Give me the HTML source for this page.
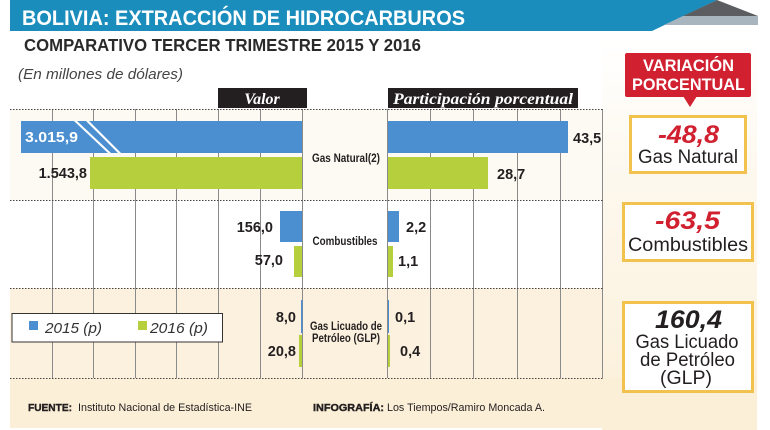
<!DOCTYPE html>
<html><head><meta charset="utf-8">
<style>
html,body{margin:0;padding:0;background:#fff;}
svg{display:block;}
text{font-family:"Liberation Sans",sans-serif;}
</style></head>
<body>
<svg width="770" height="430" viewBox="0 0 770 430" xmlns="http://www.w3.org/2000/svg">
<defs>
<linearGradient id="rp" x1="0" y1="0" x2="0" y2="1">
<stop offset="0" stop-color="#ffffff"/>
<stop offset="0.35" stop-color="#fdf8ee"/>
<stop offset="1" stop-color="#fcefd8"/>
</linearGradient>
</defs>
<rect x="0" y="0" width="770" height="430" fill="#fff"/>
<!-- right panel bg -->
<rect x="602" y="40" width="155" height="390" fill="url(#rp)"/>
<!-- row backgrounds -->
<rect x="10" y="109" width="592" height="91" fill="#fdfaf3"/>
<rect x="10" y="200" width="592" height="88" fill="#ffffff"/>
<rect x="10" y="288" width="592" height="90" fill="#fcf1de"/>
<rect x="10" y="378" width="747" height="50" fill="#fcefd8"/>

<!-- header -->
<polygon points="10,0 717,0 652,31 10,31" fill="#1a8dbd"/>
<polygon points="717,0 758,16 683,16" fill="#5b5d60"/>
<polygon points="683,16 758,16 758,25 664,25" fill="#a8b4be"/>
<text x="22" y="25" font-size="21" font-weight="bold" fill="#fff" textLength="443" lengthAdjust="spacingAndGlyphs">BOLIVIA: EXTRACCIÓN DE HIDROCARBUROS</text>
<text x="24" y="51" font-size="17.5" font-weight="bold" fill="#2a2a2a" textLength="397" lengthAdjust="spacingAndGlyphs">COMPARATIVO TERCER TRIMESTRE 2015 Y 2016</text>
<text x="18" y="79" font-size="14.5" font-style="italic" fill="#444" textLength="165" lengthAdjust="spacingAndGlyphs">(En millones de dólares)</text>

<!-- column header boxes -->
<rect x="218" y="88" width="89" height="20" fill="#231f20"/>
<text x="262" y="104" font-family="Liberation Serif" font-size="16" font-weight="bold" font-style="italic" fill="#fff" text-anchor="middle" style="font-family:'Liberation Serif',serif">Valor</text>
<rect x="388" y="88" width="190" height="20" fill="#231f20"/>
<text x="483" y="104" font-size="16" font-weight="bold" font-style="italic" fill="#fff" text-anchor="middle" textLength="180" lengthAdjust="spacingAndGlyphs" style="font-family:'Liberation Serif',serif">Participación porcentual</text>

<!-- grid lines -->
<g stroke="#8a8a8a" stroke-width="1">
<line x1="52.5" y1="109" x2="52.5" y2="378"/>
<line x1="93.5" y1="109" x2="93.5" y2="378"/>
<line x1="135.5" y1="109" x2="135.5" y2="378"/>
<line x1="176.5" y1="109" x2="176.5" y2="378"/>
<line x1="218.5" y1="109" x2="218.5" y2="378"/>
<line x1="260.5" y1="109" x2="260.5" y2="378"/>
<line x1="302.5" y1="109" x2="302.5" y2="378"/>
<line x1="387.5" y1="109" x2="387.5" y2="378"/>
<line x1="430.5" y1="109" x2="430.5" y2="378"/>
<line x1="473.5" y1="109" x2="473.5" y2="378"/>
<line x1="517.5" y1="109" x2="517.5" y2="378"/>
<line x1="560.5" y1="109" x2="560.5" y2="378"/>
<line x1="602.5" y1="109" x2="602.5" y2="378"/>
</g>
<!-- dotted lines -->
<g stroke="#444" stroke-width="1" stroke-dasharray="1.5,1.5">
<line x1="10" y1="109.5" x2="603" y2="109.5"/>
<line x1="10" y1="200.5" x2="603" y2="200.5"/>
<line x1="10" y1="288.5" x2="603" y2="288.5"/>
<line x1="10" y1="378.5" x2="603" y2="378.5"/>
</g>

<!-- left bars -->
<rect x="21" y="121" width="281" height="32" fill="#4b8fd1"/>
<polygon points="74,121 77,121 111,153 108,153" fill="#fff"/>
<polygon points="86,121 89,121 121,153 118,153" fill="#fff"/>
<rect x="90" y="157" width="212" height="32" fill="#b6cf3c"/>
<rect x="280" y="211" width="22" height="31" fill="#4b8fd1"/>
<rect x="294" y="246" width="8" height="31" fill="#b6cf3c"/>
<rect x="301" y="300" width="1.5" height="33" fill="#4b8fd1"/>
<rect x="299" y="335" width="3" height="32" fill="#b6cf3c"/>

<!-- right bars -->
<rect x="388" y="121" width="180" height="32" fill="#4b8fd1"/>
<rect x="388" y="157" width="100" height="32" fill="#b6cf3c"/>
<rect x="388" y="211" width="11" height="31" fill="#4b8fd1"/>
<rect x="388" y="246" width="5" height="31" fill="#b6cf3c"/>
<rect x="388" y="300" width="1" height="33" fill="#4b8fd1"/>
<rect x="388" y="335" width="2" height="32" fill="#b6cf3c"/>

<!-- left values -->
<g font-size="14.5" font-weight="bold" fill="#231f20">
<text x="25" y="142" fill="#fff" textLength="53" lengthAdjust="spacingAndGlyphs">3.015,9</text>
<text x="87" y="178" text-anchor="end">1.543,8</text>
<text x="273" y="232" text-anchor="end">156,0</text>
<text x="283" y="265" text-anchor="end">57,0</text>
<text x="296" y="322" text-anchor="end">8,0</text>
<text x="296" y="356" text-anchor="end">20,8</text>
<text x="573" y="143">43,5</text>
<text x="497" y="179">28,7</text>
<text x="406" y="232">2,2</text>
<text x="398" y="266">1,1</text>
<text x="395" y="322">0,1</text>
<text x="400" y="356">0,4</text>
</g>

<!-- category labels -->
<g font-size="11.5" font-weight="bold" fill="#231f20" text-anchor="middle">
<text x="346" y="162" textLength="68" lengthAdjust="spacingAndGlyphs">Gas Natural(2)</text>
<text x="345" y="245" textLength="65" lengthAdjust="spacingAndGlyphs">Combustibles</text>
<text x="346" y="330" textLength="72" lengthAdjust="spacingAndGlyphs">Gas Licuado de</text>
<text x="346" y="342" textLength="68" lengthAdjust="spacingAndGlyphs">Petróleo (GLP)</text>
</g>

<!-- legend -->
<rect x="12" y="313.5" width="210.5" height="28.5" fill="#fff" stroke="#333" stroke-width="1"/>
<rect x="29" y="321" width="9" height="9" fill="#4b8fd1"/>
<text x="45" y="333" font-size="15" font-style="italic" fill="#333" textLength="57" lengthAdjust="spacingAndGlyphs">2015 (p)</text>
<rect x="138" y="321" width="9" height="9" fill="#b6cf3c"/>
<text x="150" y="333" font-size="15" font-style="italic" fill="#333" textLength="58" lengthAdjust="spacingAndGlyphs">2016 (p)</text>

<!-- footer -->
<text x="28" y="411" font-size="10.5" font-weight="bold" fill="#231f20" textLength="44" lengthAdjust="spacingAndGlyphs" stroke="#231f20" stroke-width="0.4">FUENTE:</text>
<text x="78" y="411" font-size="11" fill="#231f20" textLength="174" lengthAdjust="spacingAndGlyphs">Instituto Nacional de Estadística-INE</text>
<text x="313" y="411" font-size="10.5" font-weight="bold" fill="#231f20" textLength="71" lengthAdjust="spacingAndGlyphs" stroke="#231f20" stroke-width="0.4">INFOGRAFÍA:</text>
<text x="387" y="411" font-size="11" fill="#231f20" textLength="158" lengthAdjust="spacingAndGlyphs">Los Tiempos/Ramiro Moncada A.</text>

<!-- variation label -->
<rect x="625" y="53" width="126" height="44" rx="2" fill="#d1202f"/>
<polygon points="683,96 697,96 690,107" fill="#d1202f"/>
<text x="688.5" y="71" font-size="17" font-weight="bold" fill="#fff" text-anchor="middle" textLength="91" lengthAdjust="spacingAndGlyphs">VARIACIÓN</text>
<text x="688.5" y="90" font-size="17" font-weight="bold" fill="#fff" text-anchor="middle" textLength="113" lengthAdjust="spacingAndGlyphs">PORCENTUAL</text>

<!-- boxes -->
<rect x="630.5" y="116.5" width="115" height="56" fill="#fff" stroke="#f2c24f" stroke-width="3"/>
<text x="688.5" y="143" font-size="25" font-weight="bold" font-style="italic" fill="#d1202f" text-anchor="middle" textLength="61" lengthAdjust="spacingAndGlyphs">-48,8</text>
<text x="688" y="163" font-size="19" fill="#231f20" text-anchor="middle" textLength="100" lengthAdjust="spacingAndGlyphs">Gas Natural</text>

<rect x="623.5" y="203.5" width="129" height="57" fill="#fff" stroke="#f2c24f" stroke-width="3"/>
<text x="687.5" y="229" font-size="25" font-weight="bold" font-style="italic" fill="#d1202f" text-anchor="middle" textLength="65" lengthAdjust="spacingAndGlyphs">-63,5</text>
<text x="688" y="251" font-size="19" fill="#231f20" text-anchor="middle" textLength="120" lengthAdjust="spacingAndGlyphs">Combustibles</text>

<rect x="623.5" y="302.5" width="129" height="89" fill="#fff" stroke="#f2c24f" stroke-width="3"/>
<text x="688.5" y="328" font-size="25" font-weight="bold" font-style="italic" fill="#231f20" text-anchor="middle" textLength="67" lengthAdjust="spacingAndGlyphs">160,4</text>
<text x="687" y="348" font-size="19" fill="#231f20" text-anchor="middle" textLength="103" lengthAdjust="spacingAndGlyphs">Gas Licuado</text>
<text x="687.5" y="366" font-size="19" fill="#231f20" text-anchor="middle" textLength="95" lengthAdjust="spacingAndGlyphs">de Petróleo</text>
<text x="686" y="384" font-size="19" fill="#231f20" text-anchor="middle" textLength="52" lengthAdjust="spacingAndGlyphs">(GLP)</text>
</svg>
</body></html>
